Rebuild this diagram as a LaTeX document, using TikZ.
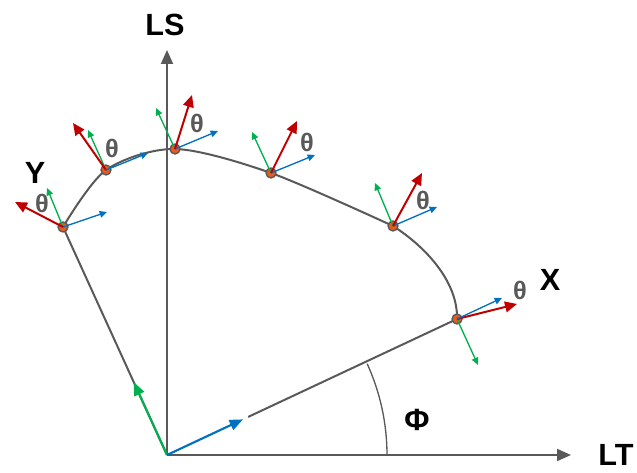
\documentclass[tikz,border=0pt]{standalone}
\usepackage{fontspec}
\setmainfont{Liberation Sans}
\usetikzlibrary{arrows.meta,calc}

\definecolor{axisgray}{RGB}{89,89,89}
\definecolor{framered}{RGB}{192,0,0}
\definecolor{framegreen}{RGB}{0,176,80}
\definecolor{frameblue}{RGB}{0,112,192}
\definecolor{dotorange}{RGB}{232,90,30}

\begin{document}
\begin{tikzpicture}[x=0.75pt,y=-0.75pt,
  axisline/.style={draw=axisgray,line width=1.5pt},
  axisarrow/.style={axisline,-{Triangle[length=10.5pt,width=9pt]}},
  redvec/.style={draw=framered,line width=1.5pt,-{Triangle[length=9pt,width=8pt]}},
  greenvec/.style={draw=framegreen,line width=1pt,-{Triangle[length=5.5pt,width=5pt]}},
  bluevec/.style={draw=frameblue,line width=1pt,-{Triangle[length=5.5pt,width=5pt]}},
  bigvec/.style={line width=1.6pt,-{Triangle[length=10pt,width=8pt]}},
  dot/.style={circle,fill=dotorange,draw=axisgray,line width=1pt,inner sep=0pt,minimum size=7.5pt},
  biglabel/.style={font=\fontsize{23}{26}\selectfont\bfseries},
  thetalabel/.style={text=axisgray,font=\fontsize{19}{21}\selectfont\bfseries}]
  \useasboundingbox (0,0) rectangle (637,473);

  % Origin and axis ends
  \coordinate (O) at (167,455);
  \coordinate (LSend) at (167,50);
  \coordinate (LTend) at (571,455);

  % Points along the curve, from Y to X
  \coordinate (Y) at (63,227);
  \coordinate (P2) at (106,170);
  \coordinate (P3) at (175,149);
  \coordinate (P4) at (271,173);
  \coordinate (P5) at (393,226);
  \coordinate (X) at (457,319);

  % Axes
  \draw[axisarrow] (O) -- (LSend);
  \draw[axisarrow] (O) -- (LTend);
  \node[biglabel] (LS) at (165,25) {LS};
  \node[biglabel] (LT) at (616,455) {LT};

  % Lines to the end points
  \draw[axisline] (O) -- (Y);
  \draw[axisline] ($(O)!0.28!(X)$) -- (X);
  \draw[bigvec,framegreen] (O) -- ($(O)!0.32!(Y)$);
  \draw[bigvec,frameblue] (O) -- ($(O)!0.262!(X)$);

  % Angle Phi
  \draw[draw=axisgray,line width=1pt] (387,455) arc[start angle=0,end angle=-24.5,radius=220];
  \node[biglabel] (phi) at (417,420) {Φ};

  % The curve
  \draw[axisline] plot[smooth] coordinates {(Y) (P2) (P3) (P4) (P5)}
    .. controls (426,247) and (458,282) .. (X);

  % Points
  \foreach \p in {Y,P2,P3,P4,P5,X}
    \node[dot] (dot\p) at (\p) {};

  % Frames at each point
  \draw[greenvec] (Y) -- ++(-16,-39);
  \draw[bluevec] (Y) -- ++(44,-15);
  \draw[redvec] (Y) -- ++(-48,-25);
  \node[thetalabel] (thY) at (42,203) {θ};

  \draw[greenvec] (P2) -- ++(-18,-40);
  \draw[bluevec] (P2) -- ++(42,-17);
  \draw[redvec] (P2) -- ++(-33,-47);
  \node[thetalabel] (thP2) at (112,148) {θ};

  \draw[greenvec] (P3) -- ++(-19,-41);
  \draw[bluevec] (P3) -- ++(43,-18);
  \draw[redvec] (P3) -- ++(17,-54);
  \node[thetalabel] (thP3) at (197,123) {θ};

  \draw[greenvec] (P4) -- ++(-19,-41);
  \draw[bluevec] (P4) -- ++(44,-18);
  \draw[redvec] (P4) -- ++(26,-52);
  \node[thetalabel] (thP4) at (307,142) {θ};

  \draw[greenvec] (P5) -- ++(-18,-43);
  \draw[bluevec] (P5) -- ++(44,-19);
  \draw[redvec] (P5) -- ++(29,-53);
  \node[thetalabel] (thP5) at (423,200) {θ};

  \draw[greenvec] (X) -- ++(21,46);
  \draw[redvec] (X) -- ++(60,-15);
  \draw[bluevec] (X) -- ++(45,-21);
  \node[thetalabel] (thX) at (520,290) {θ};

  % End point labels
  \node[biglabel] (Ylabel) at (35,173) {Y};
  \node[biglabel] (Xlabel) at (550,280) {X};
\end{tikzpicture}
\end{document}
